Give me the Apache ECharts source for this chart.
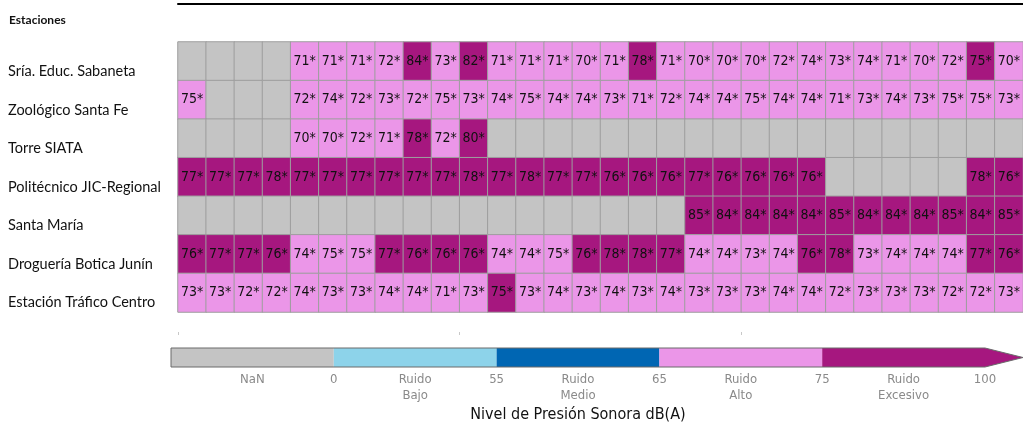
<!DOCTYPE html>
<html>
<head>
<meta charset="utf-8">
<script src="https://cdn.jsdelivr.net/npm/echarts@6/dist/echarts.min.js"></script>
<style>
html, body { margin: 0; padding: 0; background: #fff; }
#chart { width: 1023px; height: 424px; }
</style>
</head>
<body>
<div id="chart"></div>
<script>
// estaciones, de arriba hacia abajo
var stations = [
	'Sría. Educ. Sabaneta',
	'Zoológico Santa Fe',
	'Torre SIATA',
	'Politécnico JIC-Regional',
	'Santa María',
	'Droguería Botica Junín',
	'Estación Tráfico Centro'
];
var columns = [];
for (var c = 0; c < 30; c++) columns.push(String(c + 1));

// null = NaN (sin dato)
var sabaneta = [null, null, null, null, 71, 71, 71, 72, 84, 73, 82, 71, 71, 71, 70, 71, 78, 71, 70, 70, 70, 72, 74, 73, 74, 71, 70, 72, 75.3, 70];
var zoologico = [74.7, null, null, null, 72, 74, 72, 73, 72, 74.7, 73, 74, 74.7, 74, 74, 73, 71, 72, 74, 74, 74.7, 74, 74, 71, 73, 74, 73, 74.7, 74.7, 73];
var torreSiata = [null, null, null, null, 70, 70, 72, 71, 78, 72, 80, null, null, null, null, null, null, null, null, null, null, null, null, null, null, null, null, null, null, null];
var politecnico = [77, 77, 77, 78, 77, 77, 77, 77, 77, 77, 78, 77, 78, 77, 77, 76, 76, 76, 77, 76, 76, 76, 76, null, null, null, null, null, 78, 76];
var santaMaria = [null, null, null, null, null, null, null, null, null, null, null, null, null, null, null, null, null, null, 85, 84, 84, 84, 84, 85, 84, 84, 84, 85, 84, 85];
var drogueria = [76, 77, 77, 76, 74, 74.8, 74.8, 77, 76, 76, 76, 74, 74, 74.8, 76, 78, 78, 77, 74, 74, 73, 74, 76, 78, 73, 74, 74, 74, 77, 76];
var traficoCentro = [73, 73, 72, 72, 74, 73, 73, 74, 74, 71, 73, 75.2, 73, 74, 73, 74, 73, 74, 73, 73, 73, 74, 74, 72, 73, 73, 73, 72, 72, 73];
var rows = [sabaneta, zoologico, torreSiata, politecnico, santaMaria, drogueria, traficoCentro];

// barra de colores
var colorbarColors = ['#C4C4C4', '#8DD3EA', '#0066B3', '#EB96E8', '#A6177F'];
var colorbarNames = ['NaN', 'Ruido\nBajo', 'Ruido\nMedio', 'Ruido\nAlto', 'Ruido\nExcesivo'];
var colorbarTicks = ['0', '55', '65', '75', '100'];

var heatData = [];
rows.forEach(function (row, j) {
	row.forEach(function (v, i) {
		heatData.push([i, j, v == null ? -1 : v]);
	});
});

var colorbarData = colorbarColors.map(function (col, i) { return [i, 'seg']; });
colorbarData.push([5, 'arrow']);
colorbarData.push([0, 'outline']);

var chart = echarts.init(document.getElementById('chart'));
var option = {
	animation: false,
	title: {
		text: 'Estaciones',
		left: 4,
		top: 9,
		textStyle: { fontSize: 12, fontWeight: 'bold', color: '#111', fontFamily: 'Lato' }
	},
	grid: [
		{ left: 178, right: 0, top: 42, height: 270 },
		{ left: 171, right: 38, top: 348, height: 19 }
	],
	xAxis: [
		{
			type: 'category', gridIndex: 0, data: columns, position: 'bottom', offset: 20,
			axisLine: { show: false },
			axisTick: { show: true, length: 3, interval: function (i) { return i % 10 === 0; }, lineStyle: { color: '#c8c8c8' } },
			axisLabel: { show: false }, splitLine: { show: false }
		},
		{
			type: 'category', gridIndex: 0, data: columns, position: 'top', offset: 38,
			axisLine: { show: true, lineStyle: { color: '#000', width: 2 } },
			axisTick: { show: false }, axisLabel: { show: false }
		},
		{
			type: 'value', gridIndex: 1, min: 0, max: 5, interval: 0.5,
			axisLine: { show: false }, axisTick: { show: false }, splitLine: { show: false },
			axisLabel: {
				margin: 5,
				color: '#8a8a8a',
				fontSize: 13,
				lineHeight: 16,
				fontFamily: 'DejaVu Sans Condensed',
				verticalAlign: 'top',
				formatter: function (v) {
					if (v >= 1 && Math.abs(v - Math.round(v)) < 1e-6) return colorbarTicks[Math.round(v) - 1];
					if (Math.abs(v % 1 - 0.5) < 1e-6) return colorbarNames[Math.floor(v)];
					return '';
				}
			},
			name: 'Nivel de Presión Sonora dB(A)',
			nameLocation: 'middle',
			nameGap: 40,
			nameTextStyle: { fontSize: 16, color: '#111', fontFamily: 'DejaVu Sans Condensed', verticalAlign: 'top' }
		}
	],
	yAxis: [
		{
			type: 'category', gridIndex: 0, data: stations, inverse: true,
			axisLine: { show: false }, axisTick: { show: false }, splitLine: { show: false },
			axisLabel: {
				align: 'left', verticalAlign: 'top', lineHeight: 20, margin: 170, fontSize: 14.5, color: '#111',
				fontFamily: 'Lato'
			}
		},
		{ type: 'value', gridIndex: 1, min: 0, max: 1, show: false }
	],
	visualMap: {
		type: 'piecewise', show: false, seriesIndex: 0, dimension: 2,
		pieces: [
			{ lt: 0, color: colorbarColors[0] },
			{ gte: 0, lt: 55, color: colorbarColors[1] },
			{ gte: 55, lt: 65, color: colorbarColors[2] },
			{ gte: 65, lt: 75, color: colorbarColors[3] },
			{ gte: 75, color: colorbarColors[4] }
		]
	},
	series: [
		{
			type: 'heatmap',
			xAxisIndex: 0, yAxisIndex: 0,
			data: heatData,
			itemStyle: { borderColor: '#9e9e9e', borderWidth: 1 },
			label: {
				show: true, color: '#111', fontSize: 14, fontFamily: 'DejaVu Sans Condensed',
				formatter: function (p) { return p.value[2] < 0 ? '' : Math.round(p.value[2]) + '*'; }
			},
			emphasis: { disabled: true }
		},
		{
			type: 'custom',
			xAxisIndex: 2, yAxisIndex: 1,
			clip: false,
			data: colorbarData,
			renderItem: function (params, api) {
				var i = api.value(0);
				var kind = colorbarData[params.dataIndex][1];
				if (kind === 'seg') {
					var p0 = api.coord([i, 0]);
					var p1 = api.coord([i + 1, 1]);
					return {
						type: 'rect',
						shape: { x: p0[0], y: p1[1], width: p1[0] - p0[0], height: p0[1] - p1[1] },
						style: { fill: colorbarColors[i] }
					};
				}
				var a = api.coord([5, 0]);
				var b = api.coord([5, 1]);
				var tip = [a[0] + 38, (a[1] + b[1]) / 2];
				if (kind === 'arrow') {
					return {
						type: 'polygon',
						shape: { points: [a, b, tip] },
						style: { fill: colorbarColors[4] }
					};
				}
				var s0 = api.coord([0, 0]);
				var s1 = api.coord([0, 1]);
				return {
					type: 'polygon',
					shape: { points: [s0, a, tip, b, s1] },
					style: { fill: 'none', stroke: '#6a6a6a', lineWidth: 1 }
				};
			}
		}
	]
};
chart.setOption(option);
</script>
</body>
</html>
